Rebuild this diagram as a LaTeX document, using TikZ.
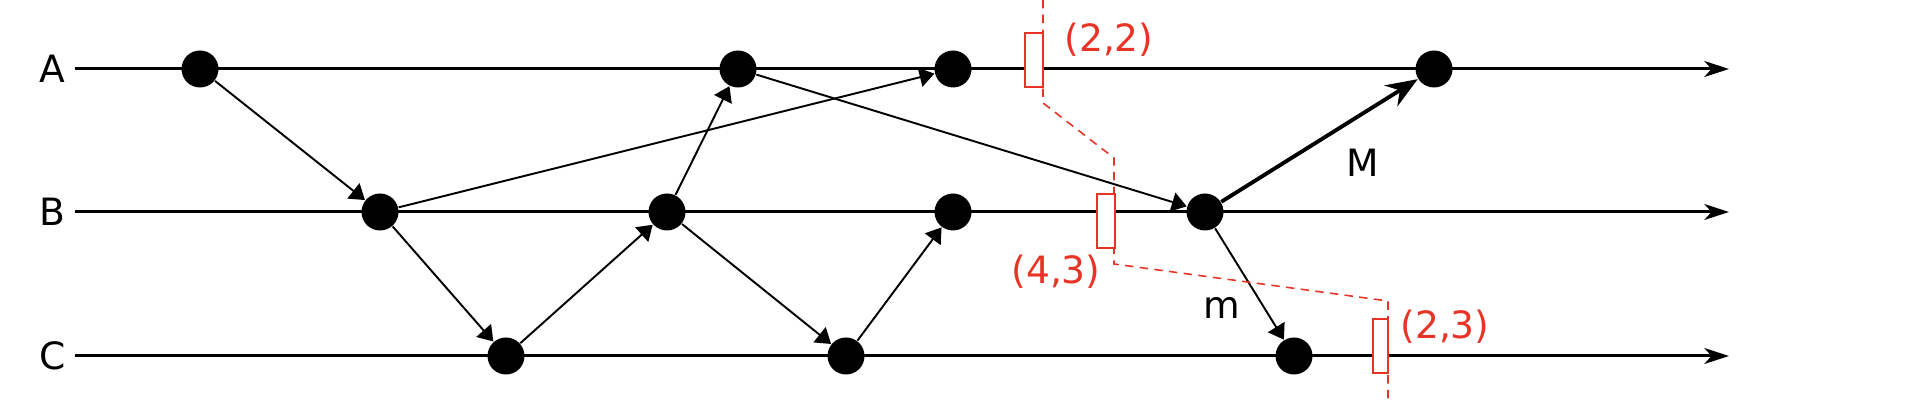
\documentclass[tikz,border=0pt]{standalone}
\usepackage{fontspec}
\setmainfont{DejaVu Sans}
\usepackage{tikz}
\usetikzlibrary{arrows.meta, positioning, calc}
\definecolor{rouge}{RGB}{232,52,38}

\begin{document}
\begin{tikzpicture}[
	evt/.style={circle, fill=black, inner sep=0pt, minimum size=0.37cm},
	msg/.style={-{Triangle[length=4.2pt,width=5.5pt]}, line width=0.55pt},
	ligne/.style={-{Stealth[length=7pt,width=4.5pt,inset=2pt]}, line width=0.85pt},
	coupe/.style={rouge, line width=0.45pt, dash pattern=on 2.4pt off 1.8pt},
	cadre/.style={draw=rouge, fill=white, line width=0.5pt, inner sep=0pt, minimum width=0.18cm, minimum height=0.54cm},
	font=\fontsize{10.7}{13}\selectfont]
	\useasboundingbox (0,0) rectangle (19.06,4.02);
	% les trois processus
	\foreach \p/\y in {A/3.33, B/1.90, C/0.46} {
		\node[anchor=east, inner sep=0pt] (nom\p) at (0.66,\y) {\p};
		\coordinate (deb\p) at (0.75,\y);
		\coordinate (fin\p) at (17.29,\y);
		\draw[ligne] (deb\p) -- (fin\p);
	}
	% evenements
	\node[evt] (a1) at (2.00,3.33) {};
	\node[evt] (a2) at (7.38,3.33) {};
	\node[evt] (a3) at (9.53,3.33) {};
	\node[evt] (a4) at (14.34,3.33) {};
	\node[evt] (b1) at (3.80,1.90) {};
	\node[evt] (b2) at (6.67,1.90) {};
	\node[evt] (b3) at (9.53,1.90) {};
	\node[evt] (b4) at (12.05,1.90) {};
	\node[evt] (c1) at (5.06,0.46) {};
	\node[evt] (c2) at (8.46,0.46) {};
	\node[evt] (c3) at (12.94,0.46) {};
	% messages
	\draw[msg] (a1) -- (b1);
	\draw[msg] (b1) -- (c1);
	\draw[msg] (b1) -- (a3);
	\draw[msg] (c1) -- (b2);
	\draw[msg] (b2) -- (a2);
	\draw[msg] (b2) -- (c2);
	\draw[msg] (c2) -- (b3);
	\draw[msg] (a2) -- (b4);
	\draw[msg] (b4) -- (c3);
	\draw[-{Stealth[length=9pt,width=7pt,inset=3pt]}, line width=1.1pt] (b4) -- (a4);
	\node (lblM) at (13.63,2.39) {M};
	\node (lblm) at (12.22,0.94) {m};
	% coupe
	\coordinate (k0) at (10.43,4.02);
	\coordinate (k1) at (10.43,2.99);
	\coordinate (k2) at (11.14,2.44);
	\coordinate (k3) at (11.14,1.38);
	\coordinate (k4) at (13.88,1.01);
	\coordinate (k5) at (13.88,0);
	\draw[coupe] (k0) -- (k1) -- (k2) -- (k3) -- (k4) -- (k5);
	\node[cadre] (r1) at (10.34,3.423) {};
	\node[cadre] (r2) at (11.06,1.81) {};
	\node[cadre, minimum width=0.15cm] (r3) at (13.805,0.56) {};
	\node[rouge] (t1) at (11.09,3.62) {(2,2)};
	\node[rouge] (t2) at (10.56,1.30) {(4,3)};
	\node[rouge] (t3) at (14.45,0.75) {(2,3)};
\end{tikzpicture}
\end{document}
